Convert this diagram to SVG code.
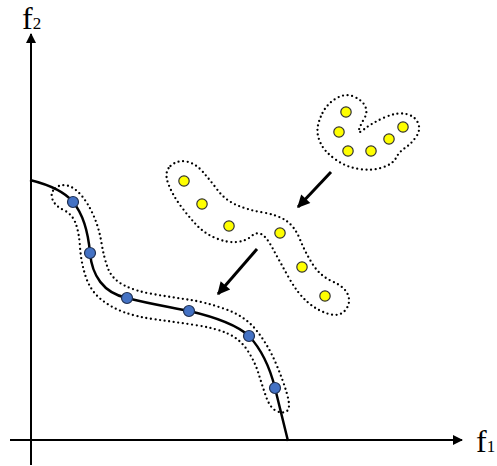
<svg xmlns="http://www.w3.org/2000/svg" width="497" height="466" viewBox="0 0 497 466">
<style>
.axis{stroke:#000;stroke-width:2;fill:none}
.lbl{font-family:"Liberation Serif","Times New Roman",serif;font-size:32px;fill:#000}
.sub{font-size:17px}
.dotted{fill:none;stroke:#000;stroke-width:2.3;stroke-dasharray:0 4.6;stroke-linecap:round}
.front{fill:none;stroke:#000;stroke-width:2.5}
.blue{fill:#4472C4;stroke:#1F2F50;stroke-width:1.2}
.yel{fill:#FFFF00;stroke:#333;stroke-width:1.2}
.arr{stroke:#000;stroke-width:3;fill:none}
</style>
<defs>
<marker id="ah" viewBox="0 0 10 10" refX="9" refY="5" markerWidth="12" markerHeight="10" markerUnits="userSpaceOnUse" orient="auto">
<path d="M0,0 L10,5 L0,10 Z" fill="#000"/>
</marker>
<marker id="ah2" viewBox="0 0 10 10" refX="9" refY="5" markerWidth="5" markerHeight="4.2" orient="auto">
<path d="M0,0 L10,5 L0,10 Z" fill="#000"/>
</marker>
</defs>
<g id="axes">
<line class="axis" x1="31" y1="465" x2="31" y2="34" marker-end="url(#ah)"/>
<line class="axis" x1="10" y1="440" x2="462" y2="440" marker-end="url(#ah)"/>
<text class="lbl" x="22" y="29">f<tspan class="sub">2</tspan></text>
<text class="lbl" x="476" y="452">f<tspan class="sub">1</tspan></text>
</g>
<g id="front">
<path class="front" d="M30,180 C50,185 65,192 73,202 C83,214 88,230 90,253 C92,275 103,293 127,298 C150,304 170,307 189,311 C215,317 237,325 249,336 C262,350 270,368 275,388 L288,441"/>
<path class="dotted" d="M55,188.5 Q60,184 67,185.5 Q74,187 81,195 Q88,203 93.5,215.5 Q99,228 101.5,243 Q104,258 108,268.5 Q112,279 123.5,285 Q135,291 152.5,294 Q170,297 187.5,299.5 Q205,302 225,309 Q245,316 256.5,330.5 Q268,345 275.5,362.5 Q283,380 287,394 Q291,408 287,411 Q283,414 276.5,411 Q270,408 266,396.5 Q262,385 258.5,373.5 Q255,362 247.5,350.5 Q240,339 227.5,333.5 Q215,328 195,325 Q175,322 156,319.5 Q137,317 123.5,312 Q110,307 100,298.5 Q90,290 85.5,276 Q81,262 80,247 Q79,232 75.5,223 Q72,214 63.5,210 Q55,206 52.5,199.5 Q50,193 55,188.5 Z"/>
<circle class="blue" cx="73" cy="202" r="5.5"/>
<circle class="blue" cx="90" cy="253" r="5.5"/>
<circle class="blue" cx="127" cy="298" r="5.5"/>
<circle class="blue" cx="189" cy="311" r="5.5"/>
<circle class="blue" cx="249" cy="336" r="5.5"/>
<circle class="blue" cx="275" cy="388" r="5.5"/>
</g>
<g id="cluster-middle">
<path class="dotted" d="M170.5,166 Q177,160 186,161.5 Q195,163 202.5,171.5 Q210,180 217.5,190 Q225,200 236.5,205 Q248,210 263,212.5 Q278,215 286.5,221 Q295,227 300,239.5 Q305,252 312.5,264 Q320,276 332.5,281.5 Q345,287 348,295 Q351,303 345.5,310 Q340,317 329,314 Q318,311 308,302.5 Q298,294 289,278 Q280,262 273,249 Q266,236 261,234 Q256,232 251,236.5 Q246,241 237,242 Q228,243 216.5,238.5 Q205,234 196.5,225 Q188,216 180,205 Q172,194 168,183 Q164,172 170.5,166 Z"/>
<circle class="yel" cx="184" cy="181" r="5.2"/>
<circle class="yel" cx="202" cy="204" r="5.2"/>
<circle class="yel" cx="229" cy="226" r="5.2"/>
<circle class="yel" cx="280" cy="233" r="5.2"/>
<circle class="yel" cx="302" cy="267" r="5.2"/>
<circle class="yel" cx="325" cy="296" r="5.2"/>
</g>
<g id="cluster-top">
<path class="dotted" d="M322.5,113 Q327,104 336,98.5 Q345,93 353.5,96.5 Q362,100 365,106 Q368,112 364.5,118 Q361,124 359,129.5 Q357,135 364.5,129 Q372,123 384.5,117.5 Q397,112 406,114 Q415,116 418,123 Q421,130 416,137 Q411,144 405,148 Q399,152 396,158 Q393,164 382.5,167.5 Q372,171 359,169 Q346,167 335.5,159.5 Q325,152 321,144 Q317,136 317.5,129 Q318,122 322.5,113 Z"/>
<circle class="yel" cx="346" cy="112" r="5.2"/>
<circle class="yel" cx="339" cy="132" r="5.2"/>
<circle class="yel" cx="348" cy="151" r="5.2"/>
<circle class="yel" cx="371" cy="151" r="5.2"/>
<circle class="yel" cx="389" cy="139" r="5.2"/>
<circle class="yel" cx="403" cy="127" r="5.2"/>
</g>
<g id="connectors">
<line class="arr" x1="331" y1="172" x2="298" y2="207" marker-end="url(#ah2)"/>
<line class="arr" x1="257" y1="249" x2="218" y2="294" marker-end="url(#ah2)"/>
</g>
</svg>
